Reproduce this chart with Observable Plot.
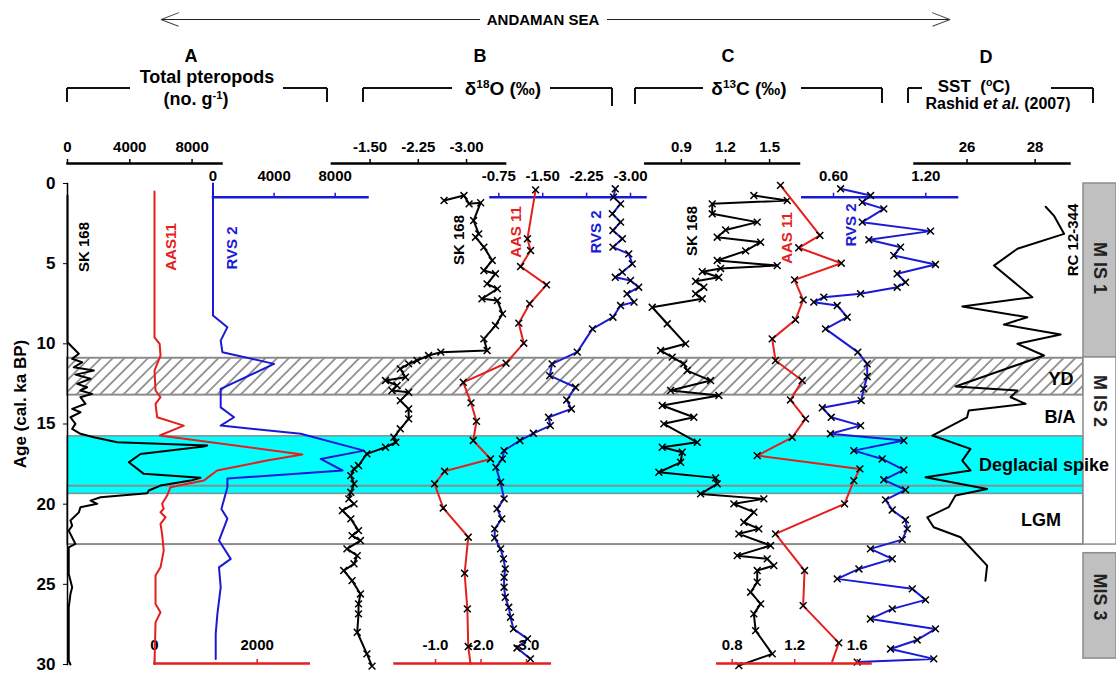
<!DOCTYPE html>
<html><head><meta charset="utf-8">
<script src="https://cdn.jsdelivr.net/npm/d3@7"></script>
<script src="https://cdn.jsdelivr.net/npm/@observablehq/plot@0.6"></script>
<style>
body{margin:0;background:#fff}
#fig{position:relative;width:1116px;height:675px;overflow:hidden;font-family:"Liberation Sans",Arial,sans-serif;font-weight:bold;color:#000;background:#fff}
#fig svg{position:absolute;left:0;top:0}
.t{position:absolute;white-space:nowrap;transform:translate(-50%,-50%);line-height:1}
.t sup{font-size:0.62em;vertical-align:0.55em;line-height:0}
.h{position:absolute;height:0;border-top:2px solid #111}
.v{position:absolute;width:0;border-left:2px solid #111}
.arm{position:absolute;height:0;border-top:1.5px solid #444;width:19px}
</style></head>
<body><div id="fig"></div>
<script>
// ---------------- DATA ----------------
const ageTicks = [0, 5, 10, 15, 20, 25, 30];

// A: Total pteropods (no. g-1)
const ptSK168Age = [0.75, 9.9, 10.62, 10.94, 11.15, 11.46, 11.67, 11.92, 12.18, 12.5, 12.71, 12.91, 13.12, 13.33, 13.74, 14.06, 14.27, 14.58, 14.99, 15.3, 15.61, 15.83, 16.14, 16.34, 16.41, 16.87, 17.39, 18.11, 18.36, 18.53, 18.84, 19.15, 19.32, 19.57, 19.78, 19.98, 20.19, 20.51, 21.02, 21.34, 21.65, 22.48, 22.69, 24.35, 25.18, 25.6, 26.43, 29.76, 30.0];
const ptSK168 = [0, 0, 725, 300, 940, 400, 1690, 510, 1480, 620, 1260, 830, 1580, 830, 1160, 300, 830, 190, 510, 300, 830, 1690, 3190, 8970, 8750, 4690, 3940, 4900, 8540, 7900, 5970, 5220, 5120, 2120, 1480, 1910, 830, 730, 190, 300, 80, 510, 80, 80, 300, 190, 80, 80, 190];
const ptAAS11Age = [0.5, 9.59, 10.0, 10.73, 11.67, 12.91, 13.33, 13.74, 14.58, 15.1, 15.72, 16.9, 17.28, 17.9, 18.53, 18.95, 19.46, 19.98, 20.29, 20.5, 20.82, 21.23, 21.85, 22.9, 23.94, 24.45, 26.22, 26.74, 27.37, 29.97];
const ptAAS11 = [0, 0, 100, 117, 0, 20, 117, 20, 52, 570, 103, 2880, 2190, 1220, 960, 310, 246, 148, 180, 117, 214, 117, 148, 180, 117, 20, 20, 117, 20, 0];
const ptRVS2Age = [0, 8.23, 8.96, 9.8, 10.52, 11.25, 12.81, 13.96, 14.58, 15.1, 15.61, 16.66, 17.18, 17.9, 18.4, 18.95, 20.3, 20.9, 22.27, 23.41, 23.94, 25.18, 26.84, 28.09, 29.65];
const ptRVS2 = [0, 0, 943, 504, 616, 3996, 504, 504, 1376, 504, 5744, 9890, 7054, 8476, 943, 943, 550, 943, 393, 1160, 393, 504, 288, 177, 177];
const ptTicksSK168 = [0, 4000, 8000];
const ptTicksRVS2 = [0, 4000, 8000];
const ptTicksAAS11 = [0, 2000];

// B: δ18O (‰)
const d18SK168Age = [1.06, 0.75, 1.27, 1.2, 2.31, 3.14, 3.35, 3.97, 4.8, 5.43, 5.63, 6.26, 6.57, 7.19, 7.3, 8.13, 8.86, 9.69, 10.42, 10.52, 10.73, 11.04, 11.25, 11.56, 12.08, 12.29, 12.6, 12.91, 13.02, 13.54, 14.06, 14.68, 15.3, 15.83, 16.14, 16.45, 16.86, 17.59, 17.8, 18.22, 18.73, 19.26, 19.67, 19.98, 20.4, 20.92, 21.65, 21.96, 22.27, 22.79, 23.21, 23.72, 24.14, 24.77, 25.6, 26.22, 26.84, 27.99, 29.34, 30.1];
const d18SK168 = [-2.65, -2.96, -3.04, -3.22, -3.11, -3.19, -3.14, -3.27, -3.40, -3.27, -3.45, -3.32, -3.48, -3.24, -3.48, -3.56, -3.45, -3.27, -3.32, -2.60, -2.41, -2.23, -2.10, -1.97, -2.05, -1.74, -1.92, -1.84, -2.10, -1.97, -2.10, -2.10, -1.97, -1.87, -1.90, -1.74, -1.45, -1.32, -1.25, -1.20, -1.25, -1.20, -1.17, -1.25, -1.07, -1.20, -1.32, -1.22, -1.35, -1.14, -1.30, -1.25, -1.09, -1.22, -1.35, -1.32, -1.32, -1.30, -1.45, -1.53];
const d18AAS11Age = [0.4, 3.45, 4.18, 5.18, 6.32, 7.5, 8.71, 9.96, 11.21, 12.4, 13.68, 14.83, 16.03, 17.18, 17.95, 18.73, 20.24, 22.06, 24.31, 26.53, 28.88, 29.96];
const d18AAS11 = [-3.20, -3.02, -3.09, -2.87, -3.44, -3.07, -2.83, -2.94, -2.55, -1.61, -1.78, -1.90, -1.83, -2.21, -1.20, -0.98, -1.17, -1.72, -1.64, -1.70, -1.72, -1.77];
const d18RVS2Age = [0.33, 0.85, 1.27, 1.89, 2.41, 2.93, 3.45, 3.97, 4.39, 5.01, 5.53, 5.85, 6.05, 6.47, 6.88, 7.4, 7.61, 8.34, 9.07, 10.52, 11.25, 11.98, 12.71, 13.5, 14.06, 14.58, 15.1, 15.58, 16.03, 16.66, 17.18, 17.7, 18.63, 19.67, 20.29, 20.92, 21.54, 22.1, 22.79, 23.41, 24.04, 24.56, 25.18, 25.81, 26.43, 27.05, 27.78, 28.4, 28.97, 29.65];
const d18RVS2 = [-2.74, -2.71, -2.83, -2.69, -2.83, -2.70, -2.86, -2.70, -2.97, -3.03, -2.86, -2.74, -3.00, -3.14, -2.94, -3.06, -2.83, -2.70, -2.35, -2.09, -1.66, -1.62, -2.06, -1.91, -1.99, -1.60, -1.63, -1.34, -1.11, -0.84, -0.81, -0.70, -0.78, -0.84, -0.72, -0.80, -0.68, -0.68, -0.78, -0.83, -0.86, -0.84, -0.84, -0.86, -0.92, -0.95, -1.00, -1.24, -1.06, -1.29];
const d18TicksSK168 = [-1.5, -2.25, -3.0];
const d18TicksRVS2 = [-0.75, -1.5, -2.25, -3.0];
const d18TicksAAS11 = [-1.0, -2.0, -3.0];

// C: δ13C (‰)
const d13SK168Age = [0.75, 1.06, 1.27, 1.89, 2.41, 2.9, 3.35, 3.66, 4.2, 4.8, 5.12, 5.3, 5.5, 5.85, 6.1, 6.47, 6.88, 7.19, 7.72, 8.75, 10.0, 10.42, 10.83, 11.25, 11.67, 12.29, 12.91, 13.22, 13.85, 14.58, 14.99, 16.14, 16.45, 16.76, 17.39, 18.01, 18.36, 18.73, 19.36, 19.67, 19.98, 20.5, 21.13, 21.54, 21.85, 22.58, 23.21, 23.41, 23.83, 24.14, 24.87, 25.49, 26.22, 26.84, 27.89, 29.34, 30.07];
const d13SK168 = [1.393, 1.620, 1.110, 1.110, 1.416, 1.201, 1.144, 1.439, 1.337, 1.144, 1.552, 1.167, 1.042, 1.155, 0.997, 1.053, 0.997, 1.042, 0.702, 0.804, 0.929, 0.759, 0.838, 0.917, 0.940, 1.099, 0.827, 1.155, 0.770, 0.985, 0.781, 1.008, 0.770, 0.906, 0.895, 0.747, 1.133, 1.144, 1.031, 1.461, 1.257, 1.393, 1.325, 1.427, 1.291, 1.507, 1.280, 1.484, 1.529, 1.416, 1.416, 1.371, 1.439, 1.393, 1.405, 1.518, 1.291];
const d13AAS11Age = [0.12, 3.24, 4.01, 4.97, 6.01, 7.26, 8.5, 9.69, 11.04, 12.29, 13.5, 14.68, 15.83, 16.97, 17.8, 18.53, 19.98, 21.85, 24.14, 26.33, 28.65, 29.8];
const d13AAS11 = [1.109, 1.361, 1.226, 1.498, 1.199, 1.254, 1.205, 1.056, 1.077, 1.248, 1.173, 1.269, 1.184, 0.96, 1.617, 1.578, 1.519, 1.077, 1.263, 1.254, 1.482, 1.44];
const d13RVS2Age = [0.33, 0.75, 1.17, 1.58, 2.41, 2.97, 3.51, 3.97, 4.49, 5.05, 5.63, 6.16, 6.47, 6.88, 7.09, 7.4, 7.61, 8.34, 9.07, 10.52, 11.25, 12.04, 12.81, 13.54, 13.99, 14.58, 15.1, 15.61, 16.03, 16.66, 17.18, 17.86, 18.48, 19.11, 19.73, 20.36, 20.98, 21.54, 22.21, 22.79, 23.41, 24.04, 24.66, 25.28, 25.97, 26.53, 27.16, 27.78, 28.47, 29.03, 29.65, 29.85];
const d13RVS2 = [0.646, 0.841, 0.787, 0.927, 0.787, 1.231, 0.830, 1.036, 0.992, 1.263, 1.014, 1.068, 1.014, 0.776, 0.537, 0.472, 0.624, 0.689, 0.548, 0.758, 0.819, 0.819, 0.797, 0.780, 0.527, 0.585, 0.776, 0.580, 1.057, 0.732, 0.917, 1.057, 0.927, 1.068, 0.938, 0.982, 1.068, 1.079, 1.047, 0.840, 0.982, 0.765, 0.624, 1.112, 1.198, 0.982, 0.840, 1.263, 1.144, 0.971, 1.252, 0.754];
const d13TicksSK168 = [0.9, 1.2, 1.5];
const d13TicksRVS2 = [0.6, 1.2];
const d13TicksAAS11 = [0.8, 1.2, 1.6];

// D: SST (°C), RC 12-344, Rashid et al. (2007)
const sstAge = [1.45, 2.0, 3.14, 4.07, 5.12, 7.09, 7.67, 8.34, 8.8, 9.42, 10.0, 10.73, 12.66, 12.91, 13.33, 13.74, 14.16, 14.58, 15.72, 16.55, 17.28, 17.9, 18.32, 19.05, 19.46, 20.19, 20.82, 21.44, 22.06, 23.83, 24.77];
const sst = [28.31, 28.55, 28.85, 27.48, 26.79, 27.92, 25.86, 27.77, 27.08, 28.75, 27.48, 28.26, 25.66, 27.48, 27.28, 27.72, 26.05, 26.0, 24.98, 26.1, 25.86, 26.1, 24.78, 26.59, 25.66, 25.46, 24.83, 25.02, 25.81, 26.59, 26.54];
const sstTicks = [26, 28];

// Climate intervals (ka BP)
const zoneNames = ["YD", "B/A", "Deglacial spike", "LGM"];
const zoneTop = [10.9, 13.2, 15.77, 18.88];
const zoneBottom = [13.2, 15.77, 19.36, 22.52];
const misNames = ["M IS 1", "M IS 2", "MIS 3"];
const misTop = [0, 10.85, 23.06];
const misBottom = [10.85, 22.52, 29.63];

// ---------------- LAYOUT ----------------
const W = 1116, H = 675, Y0 = 183, Y1 = 664;
const RED = "#e41f1c", BLUE = "#1a1ad6", CYAN = "#00ffff", BOXGRAY = "#8c8c8c";
const STYLE = {background: "none", overflow: "visible", fontFamily: "Liberation Sans, Arial, sans-serif", color: "#000"};
const fig = document.getElementById("fig");
const ser = (ages, vals) => ages.map((a, i) => ({age: a, v: vals[i]}));
const f0 = d => String(d), f1 = d => d.toFixed(1), f2 = d => d.toFixed(2);

// Base: intervals + age axis
const zones = zoneNames.map((n, i) => ({name: n, top: zoneTop[i], bottom: zoneBottom[i]}));
const base = Plot.plot({
  width: W, height: H, marginLeft: 67, marginRight: W - 1083, marginTop: Y0, marginBottom: H - Y1,
  y: {domain: [0, 30], range: [Y0, Y1]}, style: STYLE,
  marks: [
    Plot.rect(zones.filter(z => z.name === "Deglacial spike"), {y1: "top", y2: "bottom", fill: CYAN, stroke: BOXGRAY, strokeWidth: 1.5}),
    Plot.rect(zones.filter(z => z.name === "LGM"), {y1: "top", y2: "bottom", fill: "none", stroke: BOXGRAY, strokeWidth: 2}),
    Plot.rect(zones.filter(z => z.name === "YD"), {y1: "top", y2: "bottom", fill: "url(#hatch)", stroke: BOXGRAY, strokeWidth: 2}),
    Plot.frame({anchor: "left", stroke: "#000", strokeWidth: 1.5}),
    Plot.axisY({anchor: "left", ticks: ageTicks, tickFormat: f0, tickSize: 4, tickPadding: 8, fontSize: 17, fontWeight: "bold", label: null})
  ]
});
d3.select(base).insert("defs", ":first-child").html(
  '<pattern id="hatch" patternUnits="userSpaceOnUse" width="8.3" height="8.3" patternTransform="rotate(45)">' +
  '<rect width="8.3" height="8.3" fill="white"/><line x1="1" y1="0" x2="1" y2="8.3" stroke="#7a7a7a" stroke-width="1.5"/></pattern>');
fig.appendChild(base);

// MIS boxes
const mis = misNames.map((n, i) => ({name: n, top: misTop[i], bottom: misBottom[i]}));
fig.appendChild(Plot.plot({
  width: W, height: H, marginLeft: 1083, marginRight: 0, marginTop: Y0, marginBottom: H - Y1,
  y: {domain: [0, 30], range: [Y0, Y1], axis: null}, style: STYLE,
  marks: [
    Plot.rect(mis.filter(d => d.name !== "M IS 2"), {y1: "top", y2: "bottom", fill: "#c0c0c0", stroke: BOXGRAY, strokeWidth: 1.5}),
    Plot.rect(mis.filter(d => d.name === "M IS 2"), {y1: "top", y2: "bottom", fill: "white", stroke: BOXGRAY, strokeWidth: 1.5})
  ]
}));

// Record layers, each with its own x scale
const layers = [
  {x0: 67, x1: 221, axisY: 163, pad: 7, domain: [0, 9890], ticks: ptTicksSK168, fmt: f0, color: "#000",
   series: [{data: ser(ptSK168Age, ptSK168), color: "#000"}]},
  {x0: 212.5, x1: 367, axisY: 196.7, pad: 11, domain: [0, 10115], ticks: ptTicksRVS2, fmt: f0, color: BLUE,
   series: [{data: ser(ptRVS2Age, ptRVS2), color: BLUE}]},
  {x0: 154, x1: 308.3, axisY: 663, pad: 9, domain: [0, 3005], ticks: ptTicksAAS11, fmt: f0, color: RED,
   series: [{data: ser(ptAAS11Age, ptAAS11), color: RED}]},
  {x0: 331.4, x1: 504.6, axisY: 163, pad: 7, domain: [-0.906, -3.60], ticks: d18TicksSK168, fmt: f2, color: "#000",
   series: [{data: ser(d18SK168Age, d18SK168), color: "#000", dots: "all"}]},
  {x0: 490, x1: 645, axisY: 196.7, pad: 11, domain: [-0.608, -3.256], ticks: d18TicksRVS2, fmt: f2, color: BLUE,
   series: [{data: ser(d18RVS2Age, d18RVS2), color: BLUE, dots: "all"}]},
  {x0: 394, x1: 549.3, axisY: 663, pad: 9, domain: [-0.099, -3.512], ticks: d18TicksAAS11, fmt: f1, color: RED,
   series: [{data: ser(d18AAS11Age, d18AAS11), color: RED, dots: "butlast"}]},
  {x0: 644.8, x1: 798.5, axisY: 163, pad: 7, domain: [0.655, 1.70], ticks: d13TicksSK168, fmt: f1, color: "#000",
   series: [{data: ser(d13SK168Age, d13SK168), color: "#000", dots: "all"}]},
  {x0: 801.8, x1: 956.5, axisY: 196.7, pad: 11, domain: [0.397, 1.403], ticks: d13TicksRVS2, fmt: f2, color: BLUE,
   series: [{data: ser(d13RVS2Age, d13RVS2), color: BLUE, dots: "all"}]},
  {x0: 716.7, x1: 870, axisY: 663, pad: 9, domain: [0.704, 1.685], ticks: d13TicksAAS11, fmt: f1, color: RED,
   series: [{data: ser(d13AAS11Age, d13AAS11), color: RED, dots: "butlast"}]},
  {x0: 914, x1: 1069, axisY: 163, pad: 7, domain: [24.456, 29.01], ticks: sstTicks, fmt: f0, color: "#000",
   series: [{data: ser(sstAge, sst), color: "#000"}]}
];

for (const L of layers) {
  const marks = [
    Plot.frame({anchor: "top", stroke: L.color, strokeWidth: 2.5}),
    Plot.axisX({anchor: "top", ticks: L.ticks, tickFormat: L.fmt, tickSize: 5, tickPadding: L.pad, label: null,
      stroke: L.color, strokeWidth: 1.5, fill: "#000", fontSize: 15, fontWeight: "bold"})
  ];
  for (const s of L.series) {
    marks.push(Plot.line(s.data, {x: "v", y: "age", stroke: s.color, strokeWidth: 2}));
    if (s.dots) marks.push(Plot.dot(s.dots === "all" ? s.data : s.data.slice(0, -1),
      {x: "v", y: "age", symbol: "times", r: 3.2, stroke: "#000", strokeWidth: 1.5}));
  }
  fig.appendChild(Plot.plot({
    width: W, height: H, marginLeft: L.x0, marginRight: W - L.x1, marginTop: L.axisY, marginBottom: 0,
    x: {domain: L.domain, label: null}, y: {domain: [0, 30], range: [Y0, Y1], axis: null, label: null},
    style: STYLE, marks
  }));
}

// ---------------- ANNOTATIONS ----------------
function txt(html, x, y, size, color = "#000", rot = 0) {
  const d = document.createElement("div");
  d.className = "t";
  d.innerHTML = html;
  d.style.left = x + "px"; d.style.top = y + "px"; d.style.fontSize = size + "px"; d.style.color = color;
  if (rot) d.style.transform = `translate(-50%,-50%) rotate(${rot}deg)`;
  fig.appendChild(d);
}
function hl(x1, x2, y) { const d = document.createElement("div"); d.className = "h"; d.style.left = x1 + "px"; d.style.top = (y - 1) + "px"; d.style.width = (x2 - x1) + "px"; fig.appendChild(d); }
function vl(x, y1, y2) { const d = document.createElement("div"); d.className = "v"; d.style.left = (x - 1) + "px"; d.style.top = y1 + "px"; d.style.height = (y2 - y1) + "px"; fig.appendChild(d); }
function arm(x, y, origin, deg) { const d = document.createElement("div"); d.className = "arm"; d.style.left = x + "px"; d.style.top = y + "px"; d.style.transformOrigin = origin; d.style.transform = `rotate(${deg}deg)`; fig.appendChild(d); }

// Andaman Sea arrow
const arrowLine = (x1, x2) => { const d = document.createElement("div"); d.style.cssText = `position:absolute;left:${x1}px;top:18.5px;width:${x2 - x1}px;border-top:1.5px solid #222`; fig.appendChild(d); };
arrowLine(161, 480); arrowLine(607, 950);
arm(161, 18.5, "0 0", -21); arm(161, 18.5, "0 0", 21);
arm(950 - 19, 18.5, "100% 0", 21); arm(950 - 19, 18.5, "100% 0", -21);
txt("ANDAMAN SEA", 543, 19, 15);

// Panel headers
txt("A", 191, 56, 18); txt("Total pteropods", 207, 77, 18); txt("(no. g<sup>-1</sup>)", 196, 99, 18);
txt("B", 480, 56, 18); txt("&delta;<sup>18</sup>O (&permil;)", 503, 88, 19);
txt("C", 728, 56, 18); txt("&delta;<sup>13</sup>C (&permil;)", 749, 88, 19);
txt("D", 986, 57, 18); txt("SST&nbsp; (<sup>o</sup>C)", 974, 86, 17); txt("Rashid <i>et al.</i> (2007)", 998, 104, 16);
// brackets
vl(67, 88, 102); hl(67, 130, 88); hl(283, 327, 88); vl(327, 88, 102);
vl(362.5, 88, 102); hl(362.5, 452, 88); hl(550, 612, 88); vl(612, 88, 106);
vl(635, 88, 104); hl(635, 703, 88); hl(801, 882, 88); vl(882, 88, 103);
vl(907.5, 88, 103); hl(907.5, 922, 88); hl(1051, 1093, 88); vl(1093, 88, 103);

// Age axis title
txt("Age (cal. ka BP)", 20, 404, 17, "#000", -90);

// Record labels
[["SK 168", 83, 247, "#000"], ["AAS11", 170, 247, RED], ["RVS 2", 231, 248, BLUE],
 ["SK 168", 458, 240, "#000"], ["AAS 11", 515, 232, RED], ["RVS 2", 595, 232, BLUE],
 ["SK 168", 691, 231, "#000"], ["AAS 11", 786, 238, RED], ["RVS 2", 850, 225, BLUE],
 ["RC 12-344", 1072, 240, "#000"]].forEach(([s, x, y, c]) => txt(s, x, y, 15, c, -90));

// Interval labels
txt("YD", 1061, 379, 18); txt("B/A", 1060, 417, 18); txt("Deglacial spike", 1044, 465, 18); txt("LGM", 1041, 520, 18);
// MIS labels
txt("M IS 1", 1100, 268, 18, "#222", 90); txt("M IS 2", 1100, 401, 18, "#222", 90); txt("MIS 3", 1100, 597, 18, "#222", 90);
</script></body></html>
